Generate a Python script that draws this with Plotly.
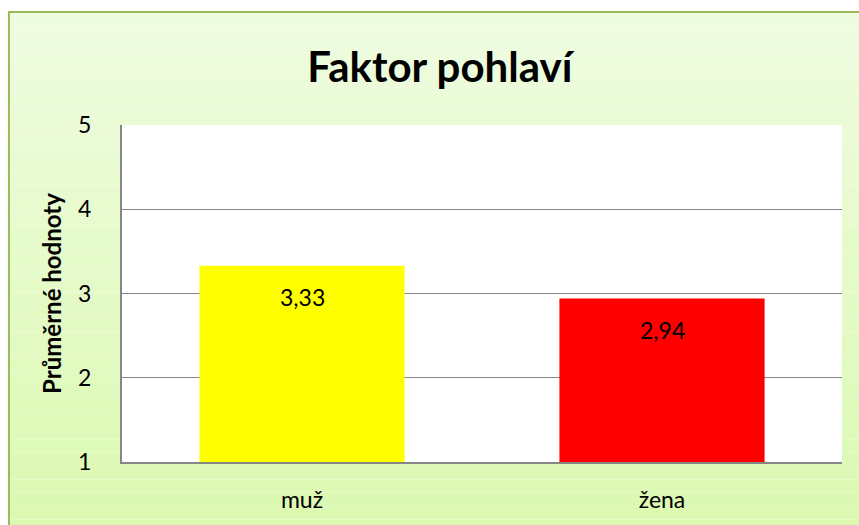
import plotly.graph_objects as go

categories = ["muž", "žena"]
values = [3.33, 2.94]
bar_colors = ["#FFFF00", "#FF0000"]
y_ticks = [1, 2, 3, 4, 5]

fig = go.Figure()

fig.add_trace(go.Bar(
    x=categories, y=values,
    marker=dict(color=bar_colors, line=dict(width=0)),
    base=0,
))

# data labels a bit below the top of each bar
for cat, val in zip(categories, values):
    fig.add_annotation(
        x=cat, y=val, text=f"{val:.2f}".replace(".", ","),
        showarrow=False, yanchor="top", yshift=-15,
        font=dict(family="Lato", size=23, color="black"),
    )

# light green gradient frame behind everything
top = (238, 252, 224)
bottom = (219, 249, 176)
n = 40
y0, y1 = -0.25, 1.335
for i in range(n):
    t = i / (n - 1)
    c = tuple(round(bottom[k] + (top[k] - bottom[k]) * t) for k in range(3))
    fig.add_shape(
        type="rect", xref="paper", yref="paper", layer="below",
        x0=-0.157, x1=1.08,
        y0=y0 + (y1 - y0) * i / n, y1=y0 + (y1 - y0) * (i + 1) / n,
        fillcolor=f"rgb{c}", line=dict(width=0),
    )
fig.add_shape(
    type="rect", xref="paper", yref="paper", layer="below",
    x0=-0.157, x1=1.08, y0=-0.25, y1=1.335,
    fillcolor="rgba(0,0,0,0)", line=dict(color="#9BBB59", width=2),
)
fig.add_shape(
    type="rect", xref="paper", yref="paper", layer="below",
    x0=0, x1=1, y0=0, y1=1,
    fillcolor="white", line=dict(width=0),
)

fig.update_layout(
    width=859, height=525,
    margin=dict(l=122, r=17, t=125, b=63),
    paper_bgcolor="white",
    plot_bgcolor="rgba(0,0,0,0)",
    bargap=0.43,
    showlegend=False,
    title=dict(
        text="<b>Faktor pohlaví</b>", x=0.512, xanchor="center", y=0.871, yanchor="middle",
        font=dict(family="Lato", size=42, color="black"),
    ),
    font=dict(family="Lato", size=23, color="black"),
)

fig.update_xaxes(
    showline=True, linecolor="#868686", linewidth=2, mirror=False,
    ticks="", tickfont=dict(size=23), ticklabelstandoff=16,
)
fig.update_yaxes(
    range=[1, 5], tickvals=y_ticks, showline=True, linecolor="#868686", linewidth=2,
    gridcolor="#868686", gridwidth=1, zeroline=False, ticks="",
    tickfont=dict(size=23), ticklabelstandoff=24,
    title=dict(text="<b>Průměrné hodnoty</b>", font=dict(size=24), standoff=10),
)

# drop the default page margin so the figure sits at the window's corner
fig.write_html(
    "out.html",
    config={"displayModeBar": False},
    post_script="document.body.style.margin='0';document.body.style.overflow='hidden';",
)
